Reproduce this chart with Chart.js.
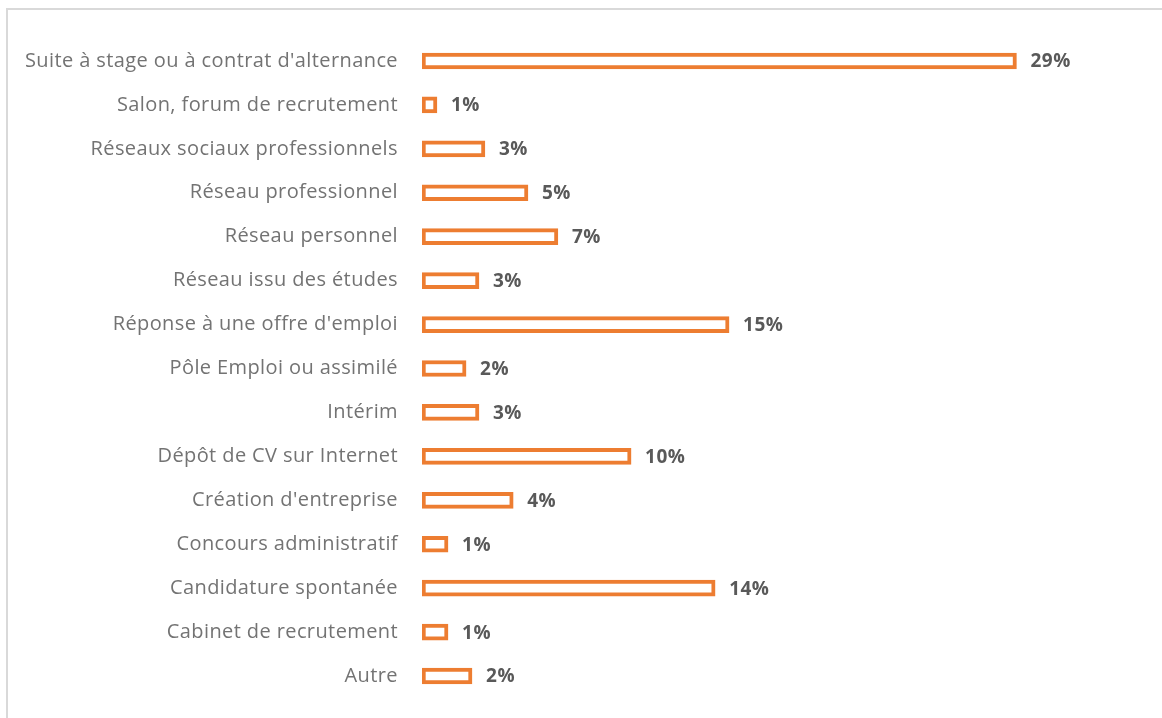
<!DOCTYPE html>
<html>
<head>
<meta charset="utf-8">
<script src="https://cdn.jsdelivr.net/npm/chart.js@4.4.0/dist/chart.umd.min.js"></script>
<style>
  html, body { margin: 0; padding: 0; background: #ffffff; }
  body { width: 1162px; height: 718px; position: relative; overflow: hidden; }
  #frame { position: absolute; left: 6px; top: 8px; width: 1200px; height: 760px;
           border-top: 2px solid #d9d9d9; border-left: 2px solid #d9d9d9; box-sizing: border-box; }
  #wrap { position: absolute; left: 0; top: 0; width: 1162px; height: 718px; }
</style>
</head>
<body>
<div id="frame"></div>
<div id="wrap"><canvas id="c"></canvas></div>
<script>
const categories = [
  "Suite à stage ou à contrat d'alternance",
  "Salon, forum de recrutement",
  "Réseaux sociaux professionnels",
  "Réseau professionnel",
  "Réseau personnel",
  "Réseau issu des études",
  "Réponse à une offre d'emploi",
  "Pôle Emploi ou assimilé",
  "Intérim",
  "Dépôt de CV sur Internet",
  "Création d'entreprise",
  "Concours administratif",
  "Candidature spontanée",
  "Cabinet de recrutement",
  "Autre"
];
const values = [29.0, 0.73, 3.07, 5.17, 6.63, 2.78, 14.98, 2.15, 2.78, 10.2, 4.45, 1.27, 14.3, 1.27, 2.44];
const valueLabels = ["29%", "1%", "3%", "5%", "7%", "3%", "15%", "2%", "3%", "10%", "4%", "1%", "14%", "1%", "2%"];

const labelFont = "'Open Sans', sans-serif";

const spacingPlugin = {
  id: 'spacing',
  beforeInit(chart) { chart.ctx.letterSpacing = '0.4px'; },
  beforeLayout(chart) { chart.ctx.letterSpacing = '0.4px'; },
  beforeDraw(chart) { chart.ctx.letterSpacing = '0.4px'; }
};

const valueLabelPlugin = {
  id: 'valueLabels',
  afterDatasetsDraw(chart) {
    const ctx = chart.ctx;
    const meta = chart.getDatasetMeta(0);
    ctx.save();
    ctx.letterSpacing = '0.5px';
    ctx.font = "bold 19px " + labelFont;
    ctx.fillStyle = "#595959";
    ctx.textAlign = "left";
    ctx.textBaseline = "middle";
    meta.data.forEach((bar, i) => {
      ctx.fillText(valueLabels[i], bar.x + 14, bar.y + 1);
    });
    ctx.restore();
  }
};

new Chart(document.getElementById('c'), {
  type: 'bar',
  data: {
    labels: categories,
    datasets: [{
      data: values,
      backgroundColor: '#ffffff',
      borderColor: '#ED7D31',
      borderWidth: 4,
      borderSkipped: false,
      barThickness: 16
    }]
  },
  options: {
    indexAxis: 'y',
    responsive: true,
    maintainAspectRatio: false,
    animation: false,
    layout: { padding: { top: 39, bottom: 20, left: 0, right: 0 } },
    plugins: { legend: { display: false }, tooltip: { enabled: false } },
    scales: {
      x: { display: false, min: 0, max: 36.1 },
      y: {
        grid: { display: false, drawTicks: false },
        border: { display: false },
        ticks: {
          padding: 24,
          color: '#737373',
          font: { family: labelFont, size: 20 }
        },
        afterFit(scale) {
          scale.width = 422;
          scale.paddingTop = 0;
          scale.paddingBottom = 0;
        }
      }
    }
  },
  plugins: [spacingPlugin, valueLabelPlugin]
});
</script>
</body>
</html>
